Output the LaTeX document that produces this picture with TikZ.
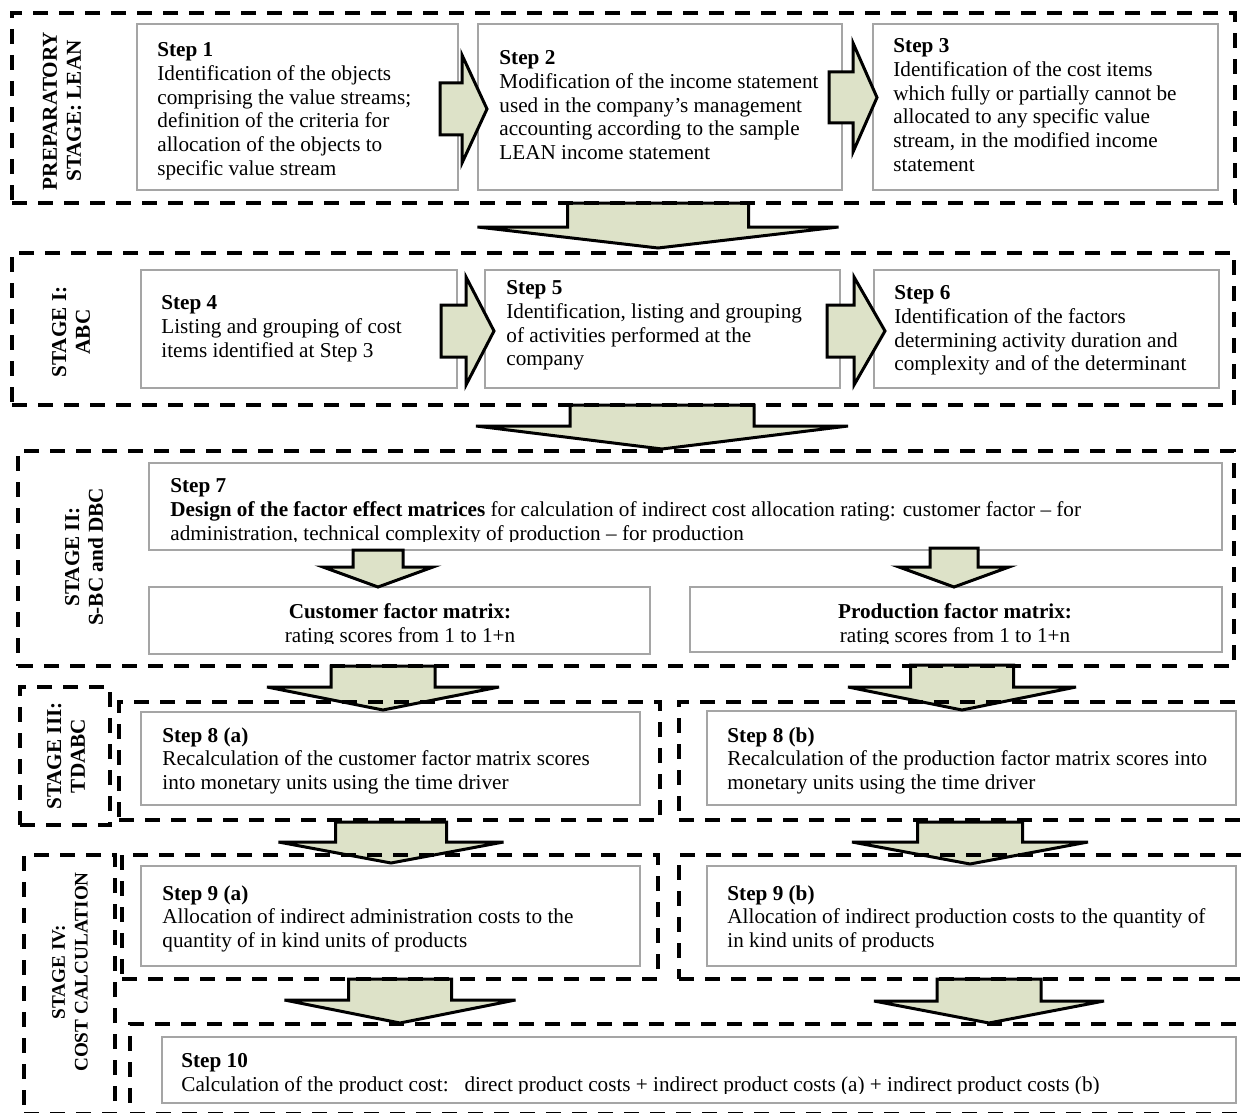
\documentclass[tikz,border=0pt]{standalone}
\usepackage{fontspec}
\setmainfont{Liberation Serif}
\usetikzlibrary{fit}

\definecolor{arrowfill}{RGB}{221,226,200}
\definecolor{boxline}{RGB}{165,165,165}
\newcommand{\stepfont}{\fontsize{10.6}{11.9}\selectfont}
% block arrows: #1 centre, #2 shaft start, #3 shoulder, #4 tip, #5 shaft half width, #6 head half width
\newcommand{\dnarrow}[6]{\draw[blockarrow] ({#1-#5},#2) -- ({#1+#5},#2) -- ({#1+#5},#3) -- ({#1+#6},#3) -- (#1,#4) -- ({#1-#6},#3) -- ({#1-#5},#3) -- cycle;}
\newcommand{\rtarrow}[6]{\draw[blockarrow] (#2,{#1-#5}) -- (#3,{#1-#5}) -- (#3,{#1-#6}) -- (#4,#1) -- (#3,{#1+#6}) -- (#3,{#1+#5}) -- (#2,{#1+#5}) -- cycle;}

\begin{document}
\begin{tikzpicture}[x=0.5pt,y=-0.5pt,
  stagebox/.style={draw=black,line width=2pt,dash pattern=on 7.5pt off 5.5pt,inner sep=0pt},
  stepbox/.style={draw=boxline,line width=0.6pt,fill=white,inner sep=0pt},
  steptext/.style={anchor=north west,inner sep=0pt,align=left,font=\stepfont},
  mattext/.style={anchor=north,inner sep=0pt,align=center,font=\stepfont},
  stagelabel/.style={rotate=90,align=center,inner sep=0pt,font=\stepfont\bfseries},
  blockarrow/.style={draw=black,line width=1.5pt,fill=arrowfill,line join=miter}]
\useasboundingbox (0,0) rectangle (1242,1113);

% step boxes
\node[stepbox,fit={(137,24) (458,190)}] (s1) {};
\node[stepbox,fit={(478,24) (842,190)}] (s2) {};
\node[stepbox,fit={(873,24) (1218,190)}] (s3) {};
\node[stepbox,fit={(141,270) (457,388)}] (s4) {};
\node[stepbox,fit={(485,270) (840,388)}] (s5) {};
\node[stepbox,fit={(874,270) (1219,388)}] (s6) {};
\node[stepbox,fit={(149,463) (1222,550)}] (s7) {};
\node[stepbox,fit={(149,587) (650,654)}] (cm) {};
\node[stepbox,fit={(690,587) (1222,652)}] (pm) {};
\node[stepbox,fit={(141,712) (640,805)}] (s8a) {};
\node[stepbox,fit={(707,711) (1236,805)}] (s8b) {};
\node[stepbox,fit={(141,866) (640,966)}] (s9a) {};
\node[stepbox,fit={(707,866) (1236,966)}] (s9b) {};
\node[stepbox,fit={(162,1037) (1236,1103)}] (s10) {};

% texts (cut at the frame of each box)
\begin{scope}\clip (137,24) rectangle (458,181);
\node[steptext] (t1) at (157,42) {\textbf{Step 1}\\Identification of the objects\\comprising the value streams;\\definition of the criteria for\\allocation of the objects to\\specific value stream};
\end{scope}
\node[steptext] (t2) at (499,50) {\textbf{Step 2}\\Modification of the income statement\\used in the company’s management\\accounting according to the sample\\LEAN income statement};
\node[steptext] (t3) at (893,38) {\textbf{Step 3}\\Identification of the cost items\\which fully or partially cannot be\\allocated to any specific value\\stream, in the modified income\\statement};
\node[steptext] (t4) at (161,295) {\textbf{Step 4}\\Listing and grouping of cost\\items identified at Step 3};
\node[steptext] (t5) at (506,280) {\textbf{Step 5}\\Identification, listing and grouping\\of activities performed at the\\company};
\node[steptext] (t6) at (894,285) {\textbf{Step 6}\\Identification of the factors\\determining activity duration and\\complexity and of the determinant};
\begin{scope}\clip (149,463) rectangle (1222,541);
\node[steptext] (t7) at (170,478) {\textbf{Step 7}\\\textbf{Design of the factor effect matrices} for calculation of indirect cost allocation rating: customer factor -- for\\administration, technical complexity of production -- for production};
\end{scope}
\begin{scope}\clip (149,587) rectangle (1222,643);
\node[mattext] (tcm) at (400,603) {\textbf{Customer factor matrix:}\\rating scores from 1 to 1+n};
\node[mattext] (tpm) at (955,603) {\textbf{Production factor matrix:}\\rating scores from 1 to 1+n};
\end{scope}
\node[steptext] (t8a) at (162,727) {\textbf{Step 8 (a)}\\Recalculation of the customer factor matrix scores\\into monetary units using the time driver};
\node[steptext] (t8b) at (727,727) {\textbf{Step 8 (b)}\\Recalculation of the production factor matrix scores into\\monetary units using the time driver};
\node[steptext] (t9a) at (162,885) {\textbf{Step 9 (a)}\\Allocation of indirect administration costs to the\\quantity of in kind units of products};
\node[steptext] (t9b) at (727,885) {\textbf{Step 9 (b)}\\Allocation of indirect production costs to the quantity of\\in kind units of products};
\begin{scope}\clip (162,1037) rectangle (1236,1093);
\node[steptext] (t10) at (181,1053) {\textbf{Step 10}\\Calculation of the product cost:\ \ \ direct product costs + indirect product costs (a) + indirect product costs (b)};
\end{scope}

% block arrows
\rtarrow{109}{440}{462}{487}{26}{54}
\rtarrow{97.5}{829}{853}{877}{25.5}{54.5}
\rtarrow{331}{441}{466}{494}{26}{54}
\rtarrow{331}{827}{854}{885}{26}{54}
\dnarrow{658}{203}{227}{248}{90.5}{180.5}
\dnarrow{662}{405}{426}{449}{92}{186}
\dnarrow{378}{550}{567}{587}{25}{55}
\dnarrow{954}{548}{567}{587}{24}{55}
\dnarrow{383}{666}{687}{710}{52}{116}
\dnarrow{962}{665}{687}{710}{51.5}{114}
\dnarrow{391}{822}{842}{863}{55.5}{112.5}
\dnarrow{970}{822}{842}{864}{52.5}{118}
\dnarrow{400}{979}{1000}{1023}{51.5}{115.5}
\dnarrow{989}{979}{1001}{1023}{52}{115}

% stage frames
\node[stagebox,fit={(12,13) (1235,203)}] (prep) {};
\node[stagebox,fit={(12,253) (1234,405)}] (abc) {};
\node[stagebox,fit={(18,451) (1234,666)}] (sbc) {};
\node[stagebox,fit={(20,687) (110,825)}] (tdabc) {};
\node[stagebox,fit={(119,702) (660,820)}] (tda) {};
\node[stagebox,fit={(679,702) (1262,820)}] (tdb) {};
\node[stagebox,fit={(24,855) (115,1114)}] (cost) {};
\node[stagebox,fit={(122,855) (658,979)}] (costa) {};
\node[stagebox,fit={(679,855) (1262,979)}] (costb) {};
\node[stagebox,fit={(130,1024) (1262,1114)}] (total) {};

% stage labels
\node[stagelabel] (lprep) at (62,111) {PREPARATORY\\STAGE: LEAN};
\node[stagelabel] (labc) at (71,332) {STAGE I:\\ABC};
\node[stagelabel] (lsbc) at (84,557) {STAGE II:\\S-BC and DBC};
\node[stagelabel] (ltdabc) at (66,756) {STAGE III:\\TDABC};
\node[stagelabel,font=\fontsize{9.6}{11.4}\selectfont\bfseries] (lcost) at (70,972) {STAGE IV:\\COST CALCULATION};
\end{tikzpicture}
\end{document}
